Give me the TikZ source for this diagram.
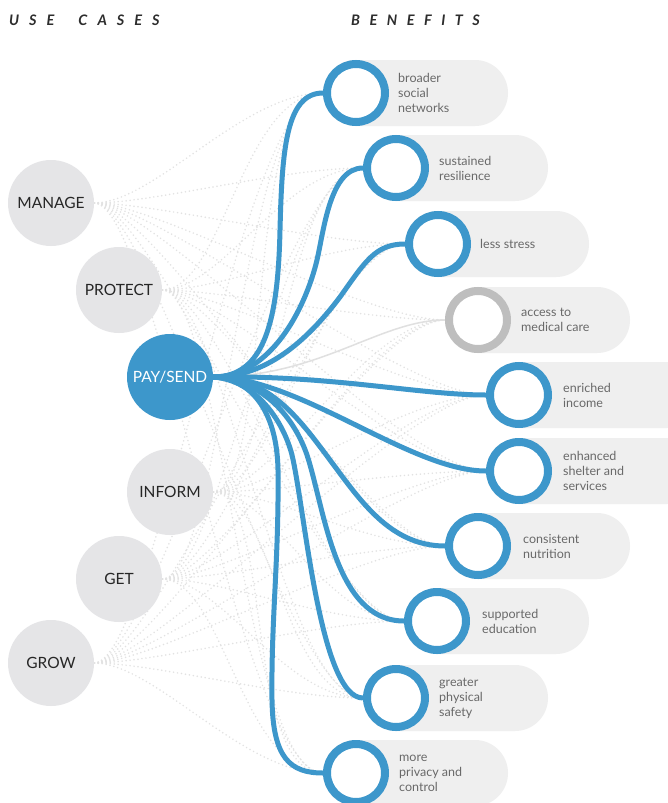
\documentclass[tikz,border=0pt]{standalone}
\usepackage{fontspec}
\setmainfont{Lato}
\pgfdeclarelayer{mesh}
\pgfdeclarelayer{pills}
\pgfdeclarelayer{lines}
\pgfsetlayers{mesh,pills,lines,main}
\definecolor{ucblue}{RGB}{61,151,203}
\definecolor{ucgray}{RGB}{229,229,231}
\definecolor{pillgray}{RGB}{239,239,239}
\definecolor{ringgray}{RGB}{190,190,190}
\definecolor{txtgray}{RGB}{105,105,105}
\definecolor{dotgray}{RGB}{226,226,226}
\definecolor{hdrgray}{RGB}{45,45,45}
\tikzset{
  uc/.style={circle, fill=ucgray, minimum size=86pt, inner sep=0pt, text=black!85,
    font=\fontsize{15.5}{18}\selectfont},
  ring/.style={circle, draw=ucblue, line width=8pt, fill=white, minimum size=58pt, inner sep=0pt},
  btxt/.style={anchor=west, align=left, inner sep=0pt, text=txtgray,
    font=\fontsize{12.5}{15}\selectfont},
  hdr/.style={anchor=west, inner sep=0pt, text=hdrgray,
    font=\fontsize{14.5}{16}\selectfont\bfseries\itshape},
  blueline/.style={draw=ucblue, line width=5pt},
  grayline/.style={draw=black!12, line width=1.5pt},
  dotline/.style={draw=dotgray, line width=1.7pt, line cap=round, dash pattern=on 0pt off 4pt},
  pill/.style={fill=pillgray, rounded corners=33pt}
}
\begin{document}
\begin{tikzpicture}[x=1pt,y=-1pt]
\useasboundingbox (0,0) rectangle (668,803);
\begin{pgfonlayer}{mesh}
\fill[white] (0,0) rectangle (668,803);
\end{pgfonlayer}

% headers
\node[hdr] (h1) at (9,20) {U\kern10pt S\kern10pt E\kern24pt C\kern10pt A\kern10pt S\kern10pt E\kern10pt S};
\node[hdr] (h2) at (351,20) {B\kern9.5pt E\kern9.5pt N\kern9.5pt E\kern9.5pt F\kern9.5pt I\kern9.5pt T\kern9.5pt S};

% use cases
\node[uc] (u1) at (51,203) {MANAGE};
\node[uc] (u2) at (119,290) {PROTECT};
\node[uc, fill=ucblue, text=white] (u3) at (170,377) {PAY/SEND};
\node[uc] (u4) at (170,492) {INFORM};
\node[uc] (u5) at (119,579) {GET};
\node[uc] (u6) at (51,663) {GROW};

% benefit rings
\node[ring] (b1) at (356,93) {};
\node[ring] (b2) at (396,168) {};
\node[ring] (b3) at (438,244) {};
\node[ring, draw=ringgray] (b4) at (478,320) {};
\node[ring] (b5) at (519,395) {};
\node[ring] (b6) at (519,471) {};
\node[ring] (b7) at (478,546) {};
\node[ring] (b8) at (437,621) {};
\node[ring] (b9) at (396,698) {};
\node[ring] (b10) at (356,773) {};

% pills
\begin{pgfonlayer}{pills}
\fill[pill] (323,60) rectangle (508,126);
\fill[pill] (363,135) rectangle (548,201);
\fill[pill] (405,211) rectangle (589,277);
\fill[pill] (445,287) rectangle (630,353);
\fill[pill] (486,362) rectangle (700,428);
\fill[pill] (486,438) rectangle (700,504);
\fill[pill] (445,513) rectangle (630,579);
\fill[pill] (404,588) rectangle (589,654);
\fill[pill] (363,665) rectangle (548,731);
\fill[pill] (323,740) rectangle (508,806);
\end{pgfonlayer}

% benefit texts
\node[btxt] (t1) at (398,93) {broader\\social\\networks};
\node[btxt] (t2) at (439,168) {sustained\\resilience};
\node[btxt] (t3) at (480,244) {less stress};
\node[btxt] (t4) at (521,320) {access to\\medical care};
\node[btxt] (t5) at (563,395) {enriched\\income};
\node[btxt] (t6) at (563,471) {enhanced\\shelter and\\services};
\node[btxt] (t7) at (523,546) {consistent\\nutrition};
\node[btxt] (t8) at (482,621) {supported\\education};
\node[btxt] (t9) at (439,698) {greater\\physical\\safety};
\node[btxt] (t10) at (399,773) {more\\privacy and\\control};

% dotted mesh
\begin{pgfonlayer}{mesh}
\foreach \u in {u1,u2,u4,u5,u6}{
  \foreach \b in {b1,b2,b3,b4,b5,b6,b7,b8,b9,b10}{
    \draw[dotline] (\u.east) .. controls +(60,0) and +(-80,0) .. (\b.west);
  }
}
\end{pgfonlayer}

% connectors from PAY/SEND
\begin{pgfonlayer}{lines}
\draw[grayline] (u3.east) .. controls (320,377) and (380,320) .. (b4.west);
\draw[blueline] (u3.east) .. controls (265,377) and (278,320) .. (280,230) .. controls (282,150) and (286,93) .. (b1.west);
\draw[blueline] (u3.east) .. controls (270,377) and (305,310) .. (317,260) .. controls (324,230) and (330,168) .. (b2.west);
\draw[blueline] (u3.east) .. controls (260,377) and (300,350) .. (340,297) .. controls (365,262) and (375,244) .. (b3.west);
\draw[blueline] (u3.east) .. controls (330,375) and (420,395) .. (b5.west);
\draw[blueline] (u3.east) .. controls (300,377) and (410,471) .. (b6.west);
\draw[blueline] (u3.east) .. controls (270,377) and (300,420) .. (330,460) .. controls (360,500) and (390,546) .. (b7.west);
\draw[blueline] (u3.east) .. controls (265,380) and (295,420) .. (307,455) .. controls (325,510) and (335,621) .. (b8.west);
\draw[blueline] (u3.east) .. controls (255,380) and (283,420) .. (292,455) .. controls (305,510) and (320,698) .. (b9.west);
\draw[blueline] (u3.east) .. controls (250,378) and (277,410) .. (278,470) .. controls (279,560) and (271,620) .. (272,700) .. controls (273,758) and (290,773) .. (b10.west);
\end{pgfonlayer}
\end{tikzpicture}
\end{document}
